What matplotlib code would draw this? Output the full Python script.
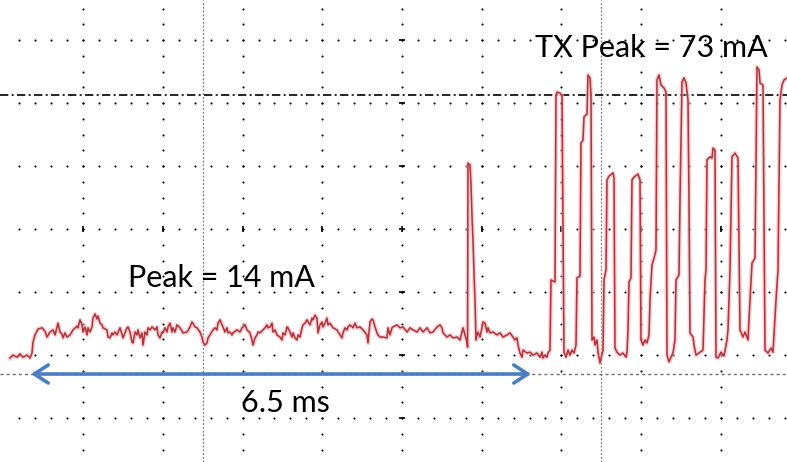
import numpy as np
import matplotlib
matplotlib.use("Agg")
import matplotlib.pyplot as plt

# trace: time in ms, current in mA
idle_t = [-0.273, -0.234, -0.182, -0.143, -0.104, -0.052, -0.013, 0.013, 0.026, 0.052,
          0.091, 0.143, 0.182, 0.208, 0.247, 0.286, 0.312, 0.338, 0.351, 0.377,
          0.403, 0.416, 0.442, 0.468, 0.507, 0.546, 0.598, 0.611, 0.637, 0.663,
          0.676, 0.702, 0.728, 0.741, 0.767, 0.793, 0.806, 0.832, 0.858, 0.871,
          0.897, 0.923, 0.936, 0.988, 1.001, 1.027, 1.053, 1.066, 1.092, 1.118,
          1.157, 1.196, 1.222, 1.248, 1.261, 1.287, 1.313, 1.326, 1.352, 1.378,
          1.391, 1.417, 1.443, 1.456, 1.482, 1.508, 1.521, 1.547, 1.573, 1.586,
          1.612, 1.638, 1.651, 1.677, 1.703, 1.716, 1.742, 1.768, 1.781, 1.807,
          1.833, 1.846, 1.872, 1.898, 1.937]
idle_ma = [3.8, 4.5, 4.0, 4.8, 4.0, 4.5, 3.8, 5.0, 7.6, 9.3,
           10.7, 11.0, 10.2, 8.8, 10.0, 10.5, 9.3, 11.2, 12.1, 10.0,
           9.5, 8.6, 9.8, 8.8, 9.3, 10.5, 11.4, 11.0, 12.9, 11.7,
           10.0, 11.2, 9.3, 11.0, 10.0, 11.2, 13.3, 14.3, 13.1, 13.8,
           12.1, 11.7, 11.0, 10.5, 8.8, 8.6, 9.8, 9.3, 10.0, 9.3,
           11.0, 8.6, 9.8, 11.0, 11.2, 10.0, 7.6, 7.4, 10.0, 9.3,
           10.5, 8.6, 9.8, 6.9, 10.0, 9.3, 11.0, 10.5, 11.2, 11.0,
           10.5, 11.2, 9.3, 8.6, 10.0, 9.8, 11.0, 10.0, 11.2, 12.1,
           10.0, 11.0, 10.0, 11.7, 11.0]

mid_t = [1.976, 2.028, 2.067, 2.093, 2.106, 2.132, 2.158, 2.197, 2.223, 2.236,
         2.262, 2.288, 2.301, 2.327, 2.366, 2.392, 2.418, 2.431, 2.457, 2.483,
         2.496, 2.522, 2.548, 2.561, 2.587, 2.613, 2.626, 2.678, 2.717, 2.743,
         2.756, 2.782, 2.808, 2.847, 2.873, 2.886, 2.912, 2.938, 2.951, 2.977,
         3.016, 3.042, 3.068, 3.081, 3.107, 3.133, 3.146, 3.172, 3.198, 3.237,
         3.263, 3.276, 3.302, 3.328, 3.341, 3.367, 3.393, 3.406, 3.432, 3.458,
         3.471, 3.497, 3.523, 3.536, 3.562, 3.588, 3.601, 3.627, 3.653, 3.666,
         3.692, 3.718, 3.731, 3.757, 3.783, 3.796, 3.822, 3.848, 3.861, 3.887,
         3.926, 3.978, 4.017, 4.043, 4.056, 4.082, 4.108, 4.121, 4.147, 4.186,
         4.212, 4.238, 4.277]
mid_ma = [9.8, 10.0, 11.2, 12.4, 12.1, 11.2, 11.0, 10.0, 8.8, 7.6,
          6.9, 7.4, 8.6, 9.3, 10.5, 11.0, 10.5, 12.1, 12.9, 11.7,
          11.2, 10.0, 11.0, 9.8, 10.0, 9.3, 9.8, 10.5, 10.0, 11.0,
          11.2, 11.7, 10.5, 9.8, 8.1, 6.9, 8.6, 9.3, 10.0, 9.8,
          10.5, 11.0, 11.7, 11.0, 11.2, 12.1, 10.0, 10.5, 9.3, 8.8,
          8.1, 9.8, 9.3, 11.2, 11.0, 10.0, 8.8, 9.8, 8.6, 8.1,
          9.3, 8.8, 11.0, 11.7, 12.1, 12.9, 12.4, 11.7, 13.3, 12.9,
          14.0, 13.3, 9.8, 11.7, 12.4, 11.2, 12.1, 13.3, 11.7, 12.1,
          11.0, 10.5, 9.3, 8.6, 9.8, 11.0, 10.5, 11.2, 11.7, 11.0,
          12.1, 11.0, 11.2]

spike_t = [4.316, 4.368, 4.381, 4.407, 4.433, 4.446, 4.472, 4.498, 4.511, 4.537,
           4.576, 4.628, 4.641, 4.667, 4.693, 4.706, 4.758, 4.797, 4.836, 4.888,
           4.927, 4.966, 5.018, 5.057, 5.096, 5.148, 5.187, 5.226, 5.278, 5.317,
           5.343, 5.356, 5.408, 5.447, 5.486, 5.538, 5.577, 5.616, 5.642, 5.668,
           5.675, 5.681, 5.707, 5.720, 5.733, 5.746, 5.759, 5.772, 5.785, 5.798,
           5.811, 5.837, 5.863, 5.876, 5.902, 5.928, 5.941, 5.967, 6.006, 6.058,
           6.097, 6.136, 6.188, 6.227, 6.266, 6.292, 6.318, 6.331, 6.357, 6.383,
           6.396, 6.448, 6.487, 6.526, 6.578, 6.617, 6.643, 6.656, 6.682, 6.708,
           6.721, 6.747]
spike_ma = [10.5, 9.3, 7.4, 12.4, 13.1, 12.9, 11.2, 9.8, 9.3, 8.8,
            8.8, 8.6, 11.0, 9.3, 11.0, 11.2, 11.7, 11.0, 11.2, 10.0,
            11.0, 10.5, 10.0, 11.0, 10.0, 11.0, 9.8, 10.0, 11.2, 11.7,
            11.0, 9.8, 8.8, 9.3, 8.6, 8.8, 8.1, 11.0, 9.3, 7.6,
            6.4, 50.2, 49.8, 45.0, 37.4, 31.9, 24.0, 17.6, 8.1, 9.3,
            10.0, 8.8, 11.0, 12.4, 12.1, 10.0, 11.0, 9.8, 10.0, 9.3,
            9.8, 8.8, 9.3, 9.8, 8.8, 8.1, 8.6, 6.9, 5.0, 4.0,
            5.7, 5.0, 5.2, 4.5, 5.0, 4.0, 5.2, 3.8, 4.5, 4.0,
            5.0, 5.7]

tx_t = [6.760, 6.812, 6.825, 6.838, 6.877, 6.903, 6.929, 6.955, 6.981, 7.007,
        7.033, 7.059, 7.085, 7.098, 7.137, 7.150, 7.176, 7.189, 7.228, 7.241,
        7.267, 7.280, 7.293, 7.319, 7.332, 7.358, 7.371, 7.397, 7.410, 7.436,
        7.449, 7.475, 7.488, 7.514, 7.566, 7.579, 7.592, 7.618, 7.657, 7.696,
        7.735, 7.748, 7.761, 7.774, 7.800, 7.813, 7.839, 7.891, 7.917, 7.930,
        7.956, 7.982, 8.008, 8.034, 8.047, 8.073, 8.099, 8.125, 8.138, 8.164,
        8.190, 8.229, 8.255, 8.268, 8.294, 8.320, 8.346, 8.372, 8.385, 8.424,
        8.437, 8.463, 8.489, 8.515, 8.541, 8.554, 8.567, 8.606, 8.619, 8.645,
        8.697, 8.736, 8.762, 8.775, 8.788, 8.827, 8.853, 8.866, 8.892, 8.905,
        8.931, 8.970, 9.009, 9.048, 9.061, 9.087, 9.113, 9.152, 9.191, 9.217,
        9.256, 9.282, 9.321, 9.347, 9.373, 9.412, 9.438, 9.464, 9.477, 9.516,
        9.542, 9.581, 9.620, 9.646, 9.685, 9.711, 9.737, 9.763, 9.789, 9.828]
tx_ma = [22.4, 21.9, 66.4, 67.1, 66.9, 66.2, 5.2, 4.0, 5.7, 4.5,
         5.7, 5.0, 6.9, 22.9, 23.3, 55.0, 55.7, 61.2, 61.9, 71.2,
         70.5, 66.4, 8.1, 8.8, 6.9, 8.1, 5.2, 2.6, 3.8, 5.7,
         22.4, 24.8, 46.2, 47.1, 47.9, 46.7, 6.2, 5.2, 4.5, 5.0,
         4.0, 5.2, 10.5, 21.9, 22.9, 46.2, 46.9, 47.6, 46.2, 8.1,
         6.9, 8.1, 7.4, 9.3, 17.6, 26.0, 27.6, 29.5, 70.0, 71.2,
         68.8, 68.1, 67.1, 4.5, 2.9, 4.0, 5.0, 8.1, 22.4, 23.6,
         41.4, 69.5, 70.5, 69.3, 65.2, 41.4, 9.8, 8.8, 6.9, 4.5,
         5.2, 5.7, 22.4, 24.8, 51.0, 51.7, 51.4, 53.8, 53.3, 4.0,
         3.8, 5.2, 4.3, 8.1, 10.5, 24.8, 51.7, 52.6, 51.4, 10.5,
         8.8, 10.0, 8.1, 17.6, 26.4, 27.6, 73.1, 72.4, 69.3, 68.8,
         5.7, 5.0, 6.2, 5.2, 17.6, 24.8, 65.2, 68.8, 70.0, 70.5]

# annotations
idle_peak_label = "Peak = 14 mA"
tx_peak_label = "TX Peak = 73 mA"
span_label = "6.5 ms"
span_start, span_end = 0.0, 6.5
tx_marker_ma = 66.4          # dash-dot cursor
ground_ma = 0.0
cursor_t = [2.236, 7.41]     # vertical dashed cursors

t = np.array(idle_t + mid_t + spike_t + tx_t)
ma = np.array(idle_ma + mid_ma + spike_ma + tx_ma)
assert len(t) == len(ma)

# scope graticule (ms per div ~1.036, 15 mA per div)
div_t = 1.0361
div_ma = 15.0
ctr_t = 4.823
ctr_ma = 34.52
xlim = (-0.403, 9.828)
ylim = (-20.95, 89.05)

fig = plt.figure(figsize=(7.87, 4.62), dpi=100)
ax = fig.add_axes([0, 0, 1, 1])
ax.set_xlim(*xlim)
ax.set_ylim(*ylim)
ax.axis('off')

cols = ctr_t + div_t * np.arange(-4, 5)
rows = ctr_ma + div_ma * np.arange(-3, 4)

# dotted rows / columns
row_dots_t = ctr_t + (div_t / 5) * np.arange(-24, 25)
for r in rows:
    ax.plot(row_dots_t, np.full_like(row_dots_t, r), 'o', ms=1.5, color='black', mec='none', zorder=1)
col_dots_ma = ctr_ma + (div_ma / 4) * np.arange(-14, 15)
for c in cols:
    ax.plot(np.full_like(col_dots_ma, c), col_dots_ma, 'o', ms=1.5, color='black', mec='none', zorder=1)

# major ticks on the centre axes
ax.plot(cols, np.full_like(cols, ctr_ma), '|', ms=5, mew=1.2, color='black', zorder=1)
ax.plot(np.full_like(rows, ctr_t), rows, '_', ms=5, mew=1.2, color='black', zorder=1)

# cursors
for c in cursor_t:
    ax.axvline(c, color='#7a7a7a', lw=0.9, ls=(0, (1.5, 1.5)), zorder=1)
ax.axhline(tx_marker_ma, color='black', lw=1.2, ls=(0, (5, 2, 1.2, 2)), zorder=1)
ax.axhline(ground_ma, color='#6e6e6e', lw=1.0, ls=(0, (2.2, 2.2)), zorder=1)

# trace with a faint glow
ax.plot(t, ma, color='#f4b5b8', lw=3.2, alpha=0.6, zorder=2)
ax.plot(t, ma, color='#b0353f', lw=1.15, zorder=3)

# 6.5 ms span arrow
ax.annotate('', xy=(span_end, ground_ma), xytext=(span_start, ground_ma),
            arrowprops=dict(arrowstyle='<->, head_length=1.0, head_width=0.65',
                            color='#4a7ec0', lw=2.6, shrinkA=0, shrinkB=0),
            zorder=4)

font = ['Lato', 'DejaVu Sans']
ax.text(1.261, 20.7, idle_peak_label, fontsize=22, family=font, ha='left', va='baseline', zorder=5)
ax.text(6.552, 75.5, tx_peak_label, fontsize=22, family=font, ha='left', va='baseline', zorder=5)
ax.text(2.73, -9.05, span_label, fontsize=22, family=font, ha='left', va='baseline', zorder=5)

fig.savefig('out.png', dpi=100)
